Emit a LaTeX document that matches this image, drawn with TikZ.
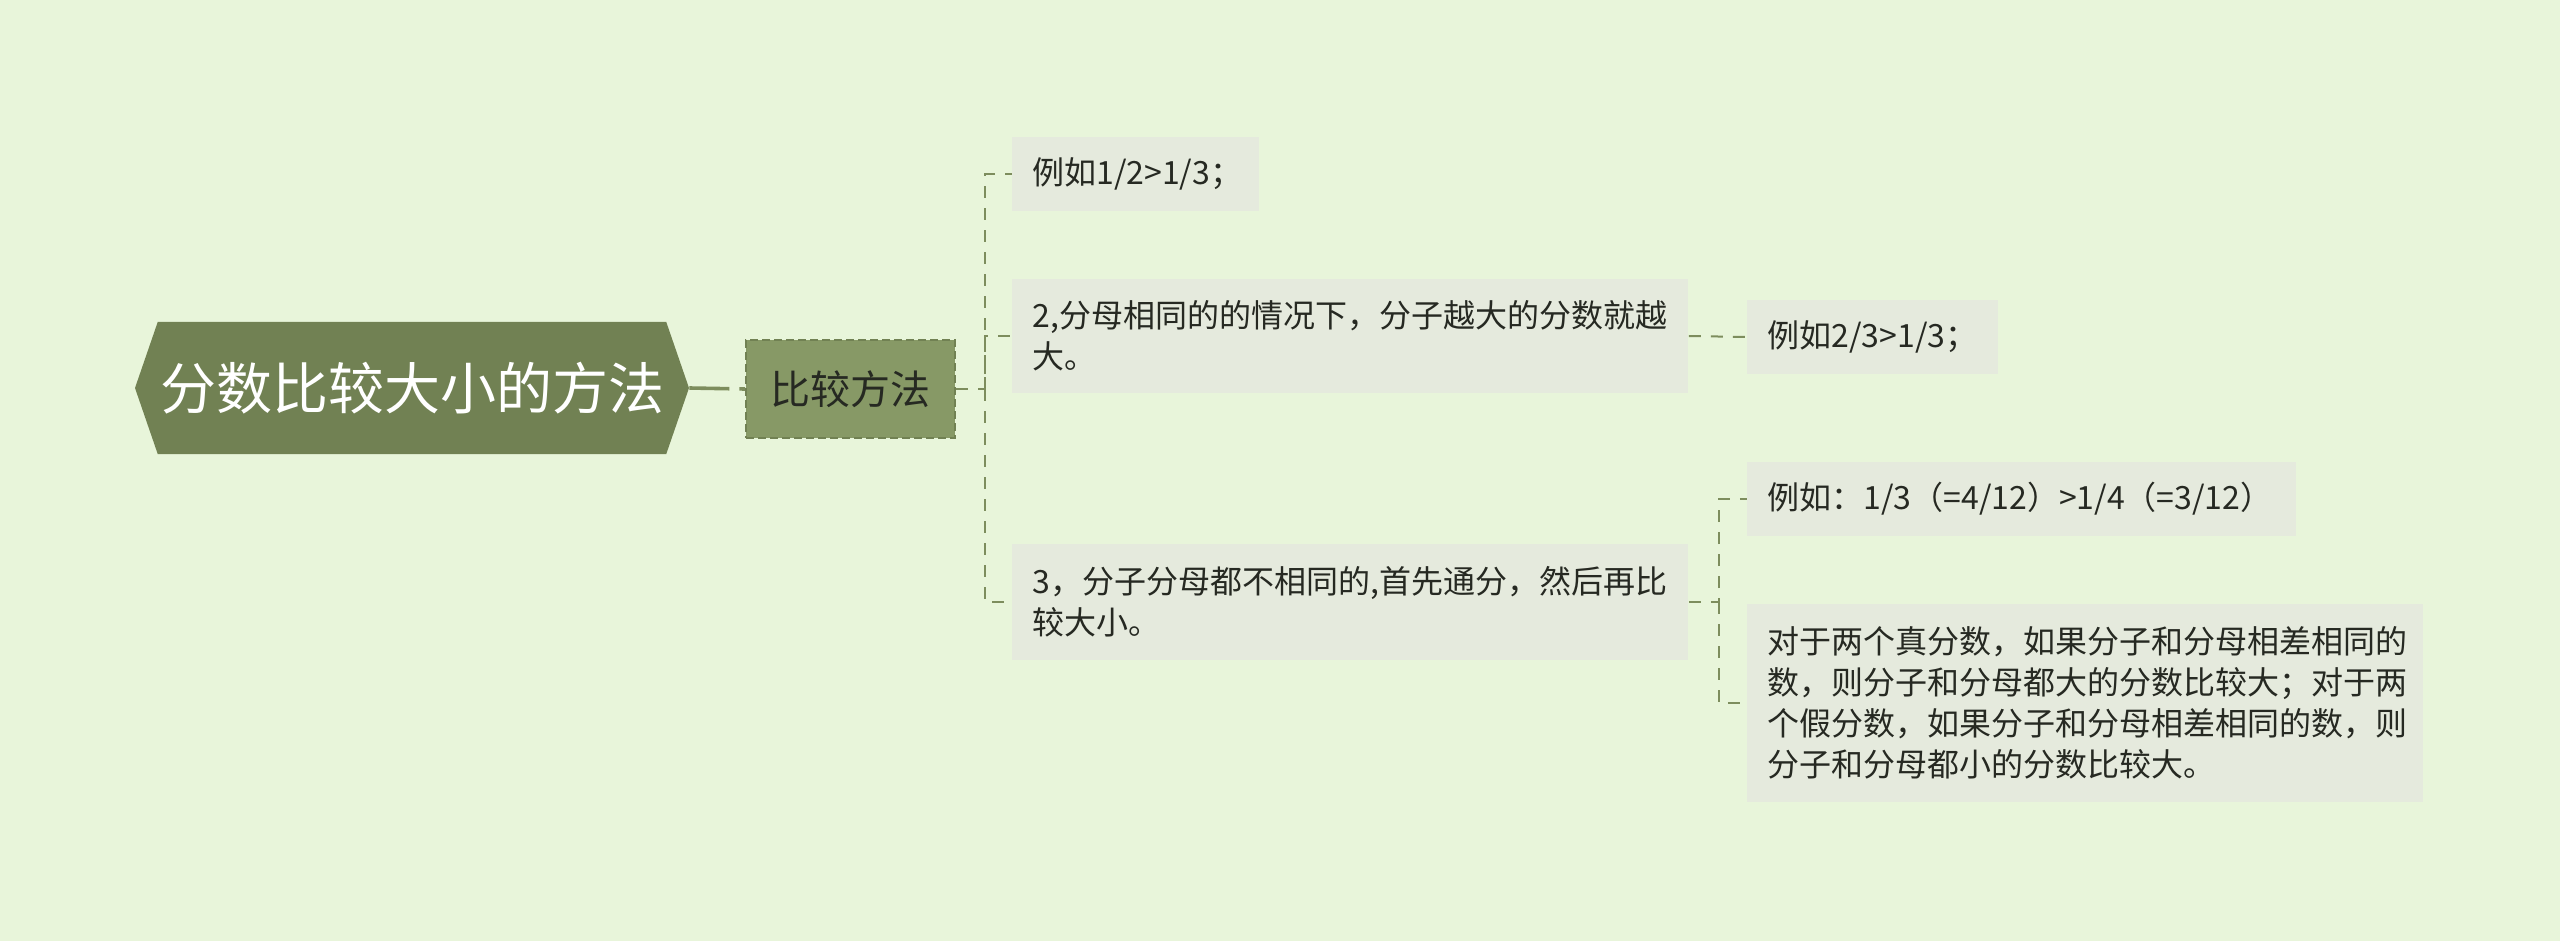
\documentclass[tikz,border=0pt]{standalone}
\usepackage{fontspec}
\setmainfont{Noto Sans CJK SC}
\usepackage{xcolor}
\usepackage{tikz}
\usetikzlibrary{positioning,shapes.symbols,calc}
\definecolor{mapPaper}{HTML}{E8F5DA}
\definecolor{mapOlive}{HTML}{718153}
\definecolor{mapSage}{HTML}{879966}
\definecolor{mapLine}{HTML}{7D8D5D}
\definecolor{mapLeaf}{HTML}{E5EADD}
\definecolor{mapInk}{HTML}{262922}
\tikzset{
  rootTopic/.style={
    signal,
    signal to=east and west,
    signal pointer angle=142,
    fill=mapOlive,
    text=white,
    minimum width=277pt,
    minimum height=66pt,
    inner sep=0pt,
    font=\fontsize{28pt}{32pt}\selectfont
  },
  branchTopic/.style={
    rectangle,
    draw=mapOlive,
    dash pattern=on 4pt off 2pt,
    line width=1pt,
    fill=mapSage,
    text=mapInk,
    minimum width=104.5pt,
    minimum height=49pt,
    inner sep=0pt,
    font=\fontsize{20pt}{24pt}\selectfont
  },
  leaf/.style={
    rectangle,
    fill=mapLeaf,
    text=mapInk,
    anchor=west,
    align=left,
    inner xsep=10pt,
    inner ysep=4pt,
    minimum height=37pt,
    font=\fontsize{16pt}{20.5pt}\selectfont
  },
  trunk/.style={
    draw=mapLine,
    line width=1.8pt,
    dash pattern=on 20pt off 5pt
  },
  link/.style={
    draw=mapLine,
    line width=1pt,
    dash pattern=on 6pt off 5pt
  }
}
\begin{document}
\begin{tikzpicture}[x=0.5pt,y=-0.5pt]
  \fill[mapPaper] (0,0) rectangle (2560,941);
  \useasboundingbox (0,0) rectangle (2560,941);
  % topics
  \node[rootTopic] (root) at (412,388) {分数比较大小的方法};
  \node[branchTopic] (method) at (850.5,389) {比较方法};
  % first level leaves
  \node[leaf,text width=103.5pt] (exampleA) at (1012,174) {例如1/2>1/3；};
  \node[leaf,text width=318pt,minimum height=57pt] (sameDen) at (1012,336) {2,分母相同的的情况下，分子越大的分数就越\\大。};
  \node[leaf,text width=318pt,minimum height=58pt] (diffBoth) at (1012,602) {3，分子分母都不相同的,首先通分，然后再比\\较大小。};
  % second level leaves
  \node[leaf,text width=105.5pt] (exampleB) at (1747,337) {例如2/3>1/3；};
  \node[leaf,text width=254.5pt] (exampleC) at (1747,499) {例如：1/3（=4/12）>1/4（=3/12）};
  \node[leaf,text width=318pt,minimum height=99pt] (properRule) at (1747,703) {对于两个真分数，如果分子和分母相差相同的\\数，则分子和分母都大的分数比较大；对于两\\个假分数，如果分子和分母相差相同的数，则\\分子和分母都小的分数比较大。};
  % connectors
  \coordinate (hubA) at ($(method.east)+(29,0)$);
  \coordinate (hubB) at ($(diffBoth.east)+(30,0)$);
  \draw[trunk] (root.east) -- (method.west);
  \draw[link] (method.east) -- (hubA) |- (exampleA.west);
  \draw[link] (hubA) |- (sameDen.west);
  \draw[link] (hubA) |- (diffBoth.west);
  \draw[link] (sameDen.east) -- (exampleB.west);
  \draw[link] (diffBoth.east) -- (hubB) |- (exampleC.west);
  \draw[link] (hubB) |- (properRule.west);
\end{tikzpicture}
\end{document}
